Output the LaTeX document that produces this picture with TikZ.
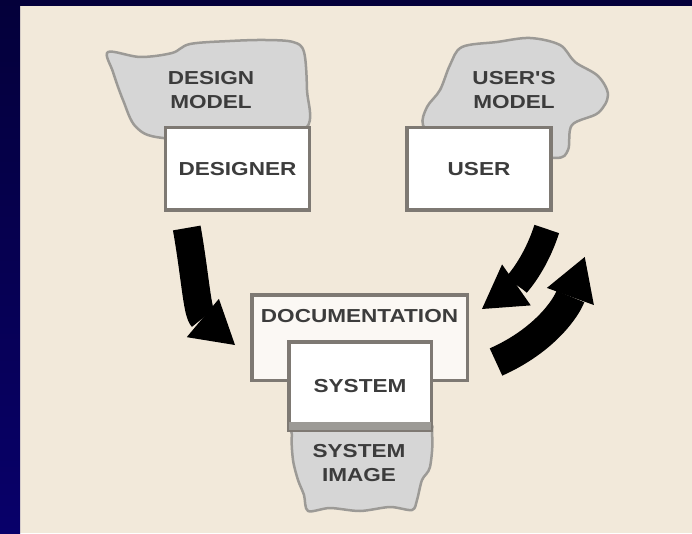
\documentclass[tikz,border=0pt]{standalone}
\usepackage{fontspec}
\usetikzlibrary{positioning,arrows.meta}
\newfontfamily\lblfont{Liberation Sans}[FakeStretch=1.2]
\definecolor{navy}{HTML}{04003A}
\definecolor{navylow}{HTML}{08006A}
\definecolor{paper}{HTML}{F2E9DA}
\definecolor{cloudgray}{HTML}{D6D6D6}
\definecolor{cloudline}{HTML}{9C9A96}
\definecolor{boxline}{HTML}{7E7973}
\definecolor{inkgray}{HTML}{3C3C3C}

\begin{document}
\begin{tikzpicture}[x=1pt, y=1pt,
    box/.style={draw=boxline, line width=3.5pt, fill=white, inner sep=0pt,
        font=\lblfont\bfseries\fontsize{18.8}{24.5}\selectfont, text=inkgray},
    lbl/.style={font=\lblfont\bfseries\fontsize{18.8}{24.5}\selectfont, text=inkgray,
        align=center, inner sep=0pt},
    cloud/.style={draw=cloudline, fill=cloudgray, line width=2.5pt, line join=round},
    bigarrow/.style={line width=28pt, -{Triangle[width=50pt,length=42pt,line width=0pt]}}]

    % Background and frame
    \fill[paper] (0,0) rectangle (692,533);
    \shade[top color=navy, bottom color=navylow] (0,0) rectangle (20,533);
    \fill[navy] (0,527) rectangle (692,533);
    \useasboundingbox (0,0) rectangle (692,533);

    % Clouds (models)
    \draw[cloud] plot[smooth cycle, tension=0.55] coordinates {(108,481) (140,476) (172,480)
        (190,489) (230,492) (265,493) (293,491) (304,481) (307,443) (306,405) (250,393)
        (163,395) (136,406) (123,433) (113,461)};
    \draw[cloud] plot[smooth cycle, tension=0.55] coordinates {(423,408) (427,426) (440,443)
        (450,468) (462,486) (497,491) (530,495) (560,488) (575,471) (598,457) (608,438)
        (598,420) (572,408) (568,383) (555,375) (500,383) (440,393)};
    \draw[cloud] plot[smooth cycle, tension=0.5] coordinates {(300,112) (420,112) (432,98)
        (430,66) (422,53) (417,33) (412,23) (390,26) (360,22) (330,25) (308,22) (304,38)
        (298,53) (293,73) (292,98)};

    \node (dsgmodel) [lbl] at (211,443) {DESIGN\\MODEL};
    \node (usrmodel) [lbl] at (514,443) {USER'S\\MODEL};
    \node (sysimage) [lbl] at (359,70) {SYSTEM\\IMAGE};

    % Boxes
    \node (designer) [box, minimum width=144pt, minimum height=82.5pt] at (237.5,364) {DESIGNER};
    \node (user) [box, right=94pt of designer, minimum width=144pt, minimum height=82.5pt] {USER};
    \node (doc) [box, fill=white!70!paper, minimum width=215.5pt, minimum height=85.5pt] at (359.5,195.5) {};
    \node (doclbl) [lbl, below=16pt of doc.north] {DOCUMENTATION};
    \node (system) [box, minimum width=142.5pt, minimum height=88.5pt] at (360,147) {SYSTEM};
    \fill[cloudline] ([xshift=1.75pt,yshift=1.75pt]system.south west)
        rectangle ([xshift=-1.75pt,yshift=10pt]system.south east);

    % Arrows
    \draw[bigarrow] ([xshift=23pt,yshift=-16pt]designer.south west)
        to[out=-80, in=140] ([xshift=-15pt,yshift=-7.5pt]doc.west);
    \draw[bigarrow, line width=26pt] ([xshift=-6pt,yshift=-17pt]user.south east)
        to[out=252, in=35] ([xshift=13pt,yshift=-16pt]doc.north east);
    \draw[bigarrow, line width=30pt] ([xshift=27pt,yshift=20pt]doc.south east)
        to[out=24, in=250] ([xshift=32pt,yshift=-45pt]user.south east);

\end{tikzpicture}
\end{document}
